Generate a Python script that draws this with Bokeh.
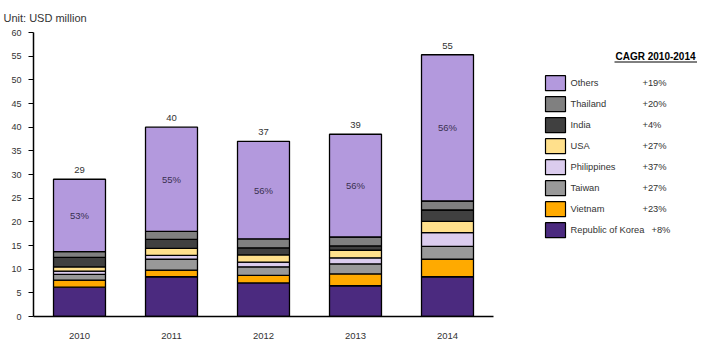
from bokeh.plotting import figure
from bokeh.models import ColumnDataSource, FixedTicker, Range1d
from bokeh.layouts import row
from bokeh.core.properties import value
from bokeh.embed import file_html
from bokeh.resources import INLINE

years = ["2010", "2011", "2012", "2013", "2014"]
korea = [6.2, 8.4, 7.1, 6.5, 8.4]
vietnam = [1.5, 1.4, 1.6, 2.5, 3.7]
taiwan = [1.2, 2.3, 1.8, 2.1, 2.7]
philippines = [0.7, 0.8, 1.0, 1.3, 2.9]
usa = [0.9, 1.5, 1.5, 1.6, 2.4]
india = [2.0, 1.9, 1.5, 0.9, 2.4]
thailand = [1.2, 1.7, 1.9, 1.9, 1.9]
others = [15.3, 22.0, 20.6, 21.7, 30.9]
totals = [29, 40, 37, 39, 55]
others_share = ["53%", "55%", "56%", "56%", "56%"]

series_names = ["Republic of Korea", "Vietnam", "Taiwan", "Philippines", "USA", "India", "Thailand", "Others"]
series_keys = ["korea", "vietnam", "taiwan", "philippines", "usa", "india", "thailand", "others"]
series_colors = ["#4B2A7F", "#FFAA00", "#999999", "#DBCCEE", "#FFE08C", "#404040", "#808080", "#B399DD"]
cagr = ["+8%", "+23%", "+27%", "+37%", "+27%", "+4%", "+20%", "+19%"]
y_ticks = list(range(0, 61, 5))
unit_text = "Unit: USD million"
legend_title = "CAGR 2010-2014"

FONT = "Liberation Sans"
TXT = "#333333"

data = dict(year=years, korea=korea, vietnam=vietnam, taiwan=taiwan,
            philippines=philippines, usa=usa, india=india, thailand=thailand,
            others=others)
source = ColumnDataSource(data)

p = figure(x_range=years, y_range=Range1d(0, 60), frame_width=460, frame_height=284,
           min_border_left=33, min_border_right=27, min_border_top=32, min_border_bottom=36,
           output_backend="svg", toolbar_location=None, title=unit_text)
p.title.text_font = FONT
p.title.text_font_size = "11px"
p.title.text_font_style = "normal"
p.title.text_color = TXT
p.title.align = "left"
p.title.vertical_align = "top"
p.title.offset = -30
p.title.standoff = 14

p.vbar_stack(series_keys, x="year", width=0.565, color=series_colors,
             line_color="black", line_width=1.3, source=source)

stack_sum = [sum(v) for v in zip(korea, vietnam, taiwan, philippines, usa, india, thailand, others)]
others_mid = [s - o / 2 for s, o in zip(stack_sum, others)]

lab = ColumnDataSource(dict(year=years, top=stack_sum, total=[str(t) for t in totals],
                            mid=others_mid, share=others_share))
p.text(x="year", y="top", text="total", source=lab, text_align="center", text_baseline="bottom",
       y_offset=-6, text_font=value(FONT), text_font_size="9.5px", text_color=TXT)
p.text(x="year", y="mid", text="share", source=lab, text_align="center", text_baseline="middle",
       text_font=value(FONT), text_font_size="9.5px", text_color="#3A3050")

p.xgrid.visible = False
p.ygrid.visible = False
p.outline_line_color = None

p.yaxis.ticker = FixedTicker(ticks=y_ticks)
p.yaxis.minor_tick_line_color = None
p.yaxis.major_tick_in = 0
p.yaxis.major_tick_out = 5
p.yaxis.major_label_standoff = 7
p.yaxis.axis_line_width = 1.5
p.yaxis.axis_line_color = "black"
p.yaxis.major_tick_line_color = "black"
p.yaxis.major_label_text_font = FONT
p.yaxis.major_label_text_font_size = "9px"
p.yaxis.major_label_text_color = TXT

p.xaxis.major_tick_line_color = None
p.xaxis.minor_tick_line_color = None
p.xaxis.major_label_standoff = 10
p.xaxis.axis_line_width = 1.5
p.xaxis.axis_line_color = "black"
p.xaxis.major_label_text_font = FONT
p.xaxis.major_label_text_font_size = "9.5px"
p.xaxis.major_label_text_color = TXT

# Legend panel (its frame is aligned with the main frame: y from 32 to 316 px)
lg = figure(width=189, height=352, x_range=Range1d(0, 189), y_range=Range1d(316, 32),
            min_border=0, min_border_top=32, min_border_bottom=36,
            output_backend="svg", toolbar_location=None)
lg.axis.visible = False
lg.xgrid.visible = False
lg.ygrid.visible = False
lg.outline_line_color = None

order = list(range(len(series_names)))[::-1]
names_top = [series_names[i] for i in order]
colors_top = [series_colors[i] for i in order]
cagr_top = [cagr[i] for i in order]
ys = [82.7 + 21 * k for k in range(len(order))]
cagr_x = [131 if len(n) > 14 else 122 for n in names_top]
leg = ColumnDataSource(dict(y=ys, name=names_top, color=colors_top, cagr=cagr_top,
                            bx=[35] * len(ys), tx=[50] * len(ys), cx=cagr_x))
lg.rect(x="bx", y="y", width=20, height=15, fill_color="color", line_color="black",
        line_width=1.2, source=leg)
lg.text(x="tx", y="y", text="name", source=leg, text_baseline="middle",
        text_font=value(FONT), text_font_size="9.3px", text_color=TXT)
lg.text(x="cx", y="y", text="cagr", source=leg, text_baseline="middle",
        text_font=value(FONT), text_font_size="9.3px", text_color=TXT)
lg.text(x=[135], y=[55.7], text=[legend_title], text_align="center", text_baseline="middle",
        text_font=value(FONT), text_font_size="10px", text_font_style="bold", text_color="black")
lg.segment(x0=[94], y0=[61.5], x1=[176.5], y1=[61.5], line_color="black", line_width=1)

layout = row(p, lg)
open("out.html", "w").write(file_html(layout, INLINE))
